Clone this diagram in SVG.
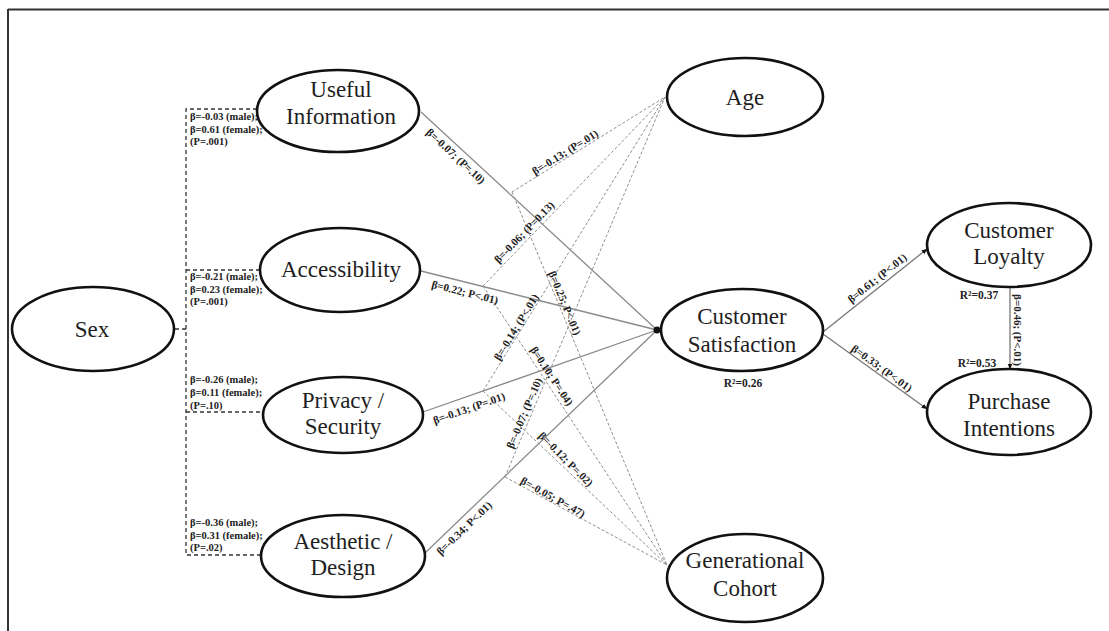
<svg xmlns="http://www.w3.org/2000/svg" width="1109" height="631" viewBox="0 0 1109 631">
<style>
.node ellipse{fill:#fff;stroke:#111;stroke-width:2.6}
.nt{font-family:"Liberation Serif","Times New Roman",serif;font-size:23px;fill:#1e1e1e;text-anchor:middle}
.solid{stroke:#8a8a8a;stroke-width:1.3;fill:none}
.dot{stroke:#8f8f8f;stroke-width:1;stroke-dasharray:3 2;fill:none}
.sexd{stroke:#333;stroke-width:1.3;stroke-dasharray:4 3;fill:none}
.lab{font-family:"Liberation Serif","Times New Roman",serif;font-size:11px;font-weight:bold;fill:#222;text-anchor:middle;dominant-baseline:central}
.sl{font-family:"Liberation Serif","Times New Roman",serif;font-size:10.5px;font-weight:bold;fill:#222}
.r2{font-family:"Liberation Serif","Times New Roman",serif;font-size:11.5px;font-weight:bold;fill:#222;text-anchor:middle}
.arr{stroke:#777;stroke-width:1.3;fill:none}
</style>
<defs>
<marker id="ah" viewBox="0 0 10 10" refX="9" refY="5" markerWidth="6" markerHeight="6" orient="auto" markerUnits="userSpaceOnUse">
<path d="M0,1 L10,5 L0,9 z" fill="#111"/>
</marker>
</defs>
<rect width="1109" height="631" fill="#fff"/>
<g id="frame">
<line x1="8" y1="9.5" x2="1109" y2="9.5" stroke="#333" stroke-width="2"/>
<line x1="8" y1="9" x2="8" y2="631" stroke="#333" stroke-width="2"/>
</g>
<g id="connectors">
<path class="sexd" d="M257,109 H186 V555 H262"/>
<path class="sexd" d="M186,270 H260"/>
<path class="sexd" d="M186,412 H262"/>
<path class="sexd" d="M175,329 H186"/>
<line class="solid" x1="421" y1="112" x2="657" y2="330"/>
<line class="solid" x1="421" y1="271" x2="657" y2="330"/>
<line class="solid" x1="423" y1="412" x2="657" y2="330"/>
<line class="solid" x1="425" y1="553" x2="657" y2="330"/>
<circle cx="657" cy="330" r="3.5" fill="#111"/>
<line class="dot" x1="512" y1="192" x2="665" y2="97"/>
<line class="dot" x1="512" y1="192" x2="667" y2="565"/>
<line class="dot" x1="483" y1="286" x2="665" y2="97"/>
<line class="dot" x1="483" y1="286" x2="667" y2="565"/>
<line class="dot" x1="483" y1="391" x2="665" y2="97"/>
<line class="dot" x1="483" y1="391" x2="667" y2="565"/>
<line class="dot" x1="505" y1="477" x2="665" y2="97"/>
<line class="dot" x1="505" y1="477" x2="667" y2="565"/>
<line class="arr" x1="823" y1="332" x2="927" y2="249" marker-end="url(#ah)"/>
<line class="arr" x1="823" y1="334" x2="927" y2="409" marker-end="url(#ah)"/>
<line class="arr" x1="1010" y1="287" x2="1010" y2="369" marker-end="url(#ah)"/>
<text class="sl" x="190" y="120">β=-0.03 (male);</text>
<text class="sl" x="190" y="133">β=0.61 (female);</text>
<text class="sl" x="190" y="145">(P=.001)</text>
<text class="sl" x="190" y="280">β=-0.21 (male);</text>
<text class="sl" x="190" y="293">β=0.23 (female);</text>
<text class="sl" x="190" y="305">(P=.001)</text>
<text class="sl" x="190" y="383">β=-0.26 (male);</text>
<text class="sl" x="190" y="396">β=0.11 (female);</text>
<text class="sl" x="190" y="409">(P=.10)</text>
<text class="sl" x="190" y="526">β=-0.36 (male);</text>
<text class="sl" x="190" y="539">β=0.31 (female);</text>
<text class="sl" x="190" y="551">(P=.02)</text>
<text class="lab" transform="translate(456,156) rotate(42.7)">β=-0.07; (P=.10)</text>
<text class="lab" transform="translate(565,152) rotate(-31.8)">β=-0.13; (P=.01)</text>
<text class="lab" transform="translate(524,232) rotate(-45.8)">β=-0.06; (P=0.13)</text>
<text class="lab" transform="translate(465,292) rotate(14)">β=0.22; P&lt;.01)</text>
<text class="lab" transform="translate(565,303) rotate(67.4)">β=0.25; P&lt;.01)</text>
<text class="lab" transform="translate(516,327) rotate(-58.5)">β=-0.14; (P&lt;.01)</text>
<text class="lab" transform="translate(552,376) rotate(56.6)">β=0.10; P=.04)</text>
<text class="lab" transform="translate(469,408) rotate(-19.3)">β=-0.13; (P=.01)</text>
<text class="lab" transform="translate(524,413) rotate(-67.2)">β=-0.07; (P=.10)</text>
<text class="lab" transform="translate(566,459) rotate(45)">β=-0.12; P=.02)</text>
<text class="lab" transform="translate(553,497) rotate(29)">β=-0.05; P=.47)</text>
<text class="lab" transform="translate(464,528) rotate(-43.9)">β=-0.34; P&lt;.01)</text>
<text class="lab" transform="translate(877,278) rotate(-38.6)">β=0.61; (P&lt;.01)</text>
<text class="lab" transform="translate(882,368) rotate(36)">β=0.33; (P&lt;.01)</text>
<text class="lab" transform="translate(1018,330) rotate(90)">β=0.46; (P&lt;.01)</text>
<text class="r2" x="743" y="387">R²=0.26</text>
<text class="r2" x="979" y="299">R²=0.37</text>
<text class="r2" x="977" y="367">R²=0.53</text>
</g>
<g id="node-sex" class="node">
<ellipse cx="93" cy="329" rx="81" ry="42"/>
<text class="nt" x="92" y="337">Sex</text>
</g>
<g id="node-useful" class="node">
<ellipse cx="338" cy="111" rx="81" ry="41"/>
<text class="nt" x="341" y="97">Useful</text>
<text class="nt" x="341" y="124">Information</text>
</g>
<g id="node-access" class="node">
<ellipse cx="340" cy="270" rx="80" ry="42"/>
<text class="nt" x="341" y="277">Accessibility</text>
</g>
<g id="node-privacy" class="node">
<ellipse cx="343" cy="415" rx="80" ry="38"/>
<text class="nt" x="343" y="408">Privacy /</text>
<text class="nt" x="343" y="434">Security</text>
</g>
<g id="node-aesthetic" class="node">
<ellipse cx="343" cy="556" rx="82" ry="41"/>
<text class="nt" x="343" y="549">Aesthetic /</text>
<text class="nt" x="343" y="575">Design</text>
</g>
<g id="node-age" class="node">
<ellipse cx="745" cy="97" rx="78" ry="39"/>
<text class="nt" x="745" y="105">Age</text>
</g>
<g id="node-satisfaction" class="node">
<ellipse cx="742" cy="330" rx="81" ry="41"/>
<text class="nt" x="742" y="324">Customer</text>
<text class="nt" x="742" y="352">Satisfaction</text>
</g>
<g id="node-cohort" class="node">
<ellipse cx="745" cy="578" rx="78" ry="44"/>
<text class="nt" x="745" y="568">Generational</text>
<text class="nt" x="745" y="596">Cohort</text>
</g>
<g id="node-loyalty" class="node">
<ellipse cx="1009" cy="245" rx="82" ry="42"/>
<text class="nt" x="1009" y="238">Customer</text>
<text class="nt" x="1009" y="264">Loyalty</text>
</g>
<g id="node-purchase" class="node">
<ellipse cx="1009" cy="412" rx="82" ry="43"/>
<text class="nt" x="1009" y="409">Purchase</text>
<text class="nt" x="1009" y="436">Intentions</text>
</g>
</svg>
